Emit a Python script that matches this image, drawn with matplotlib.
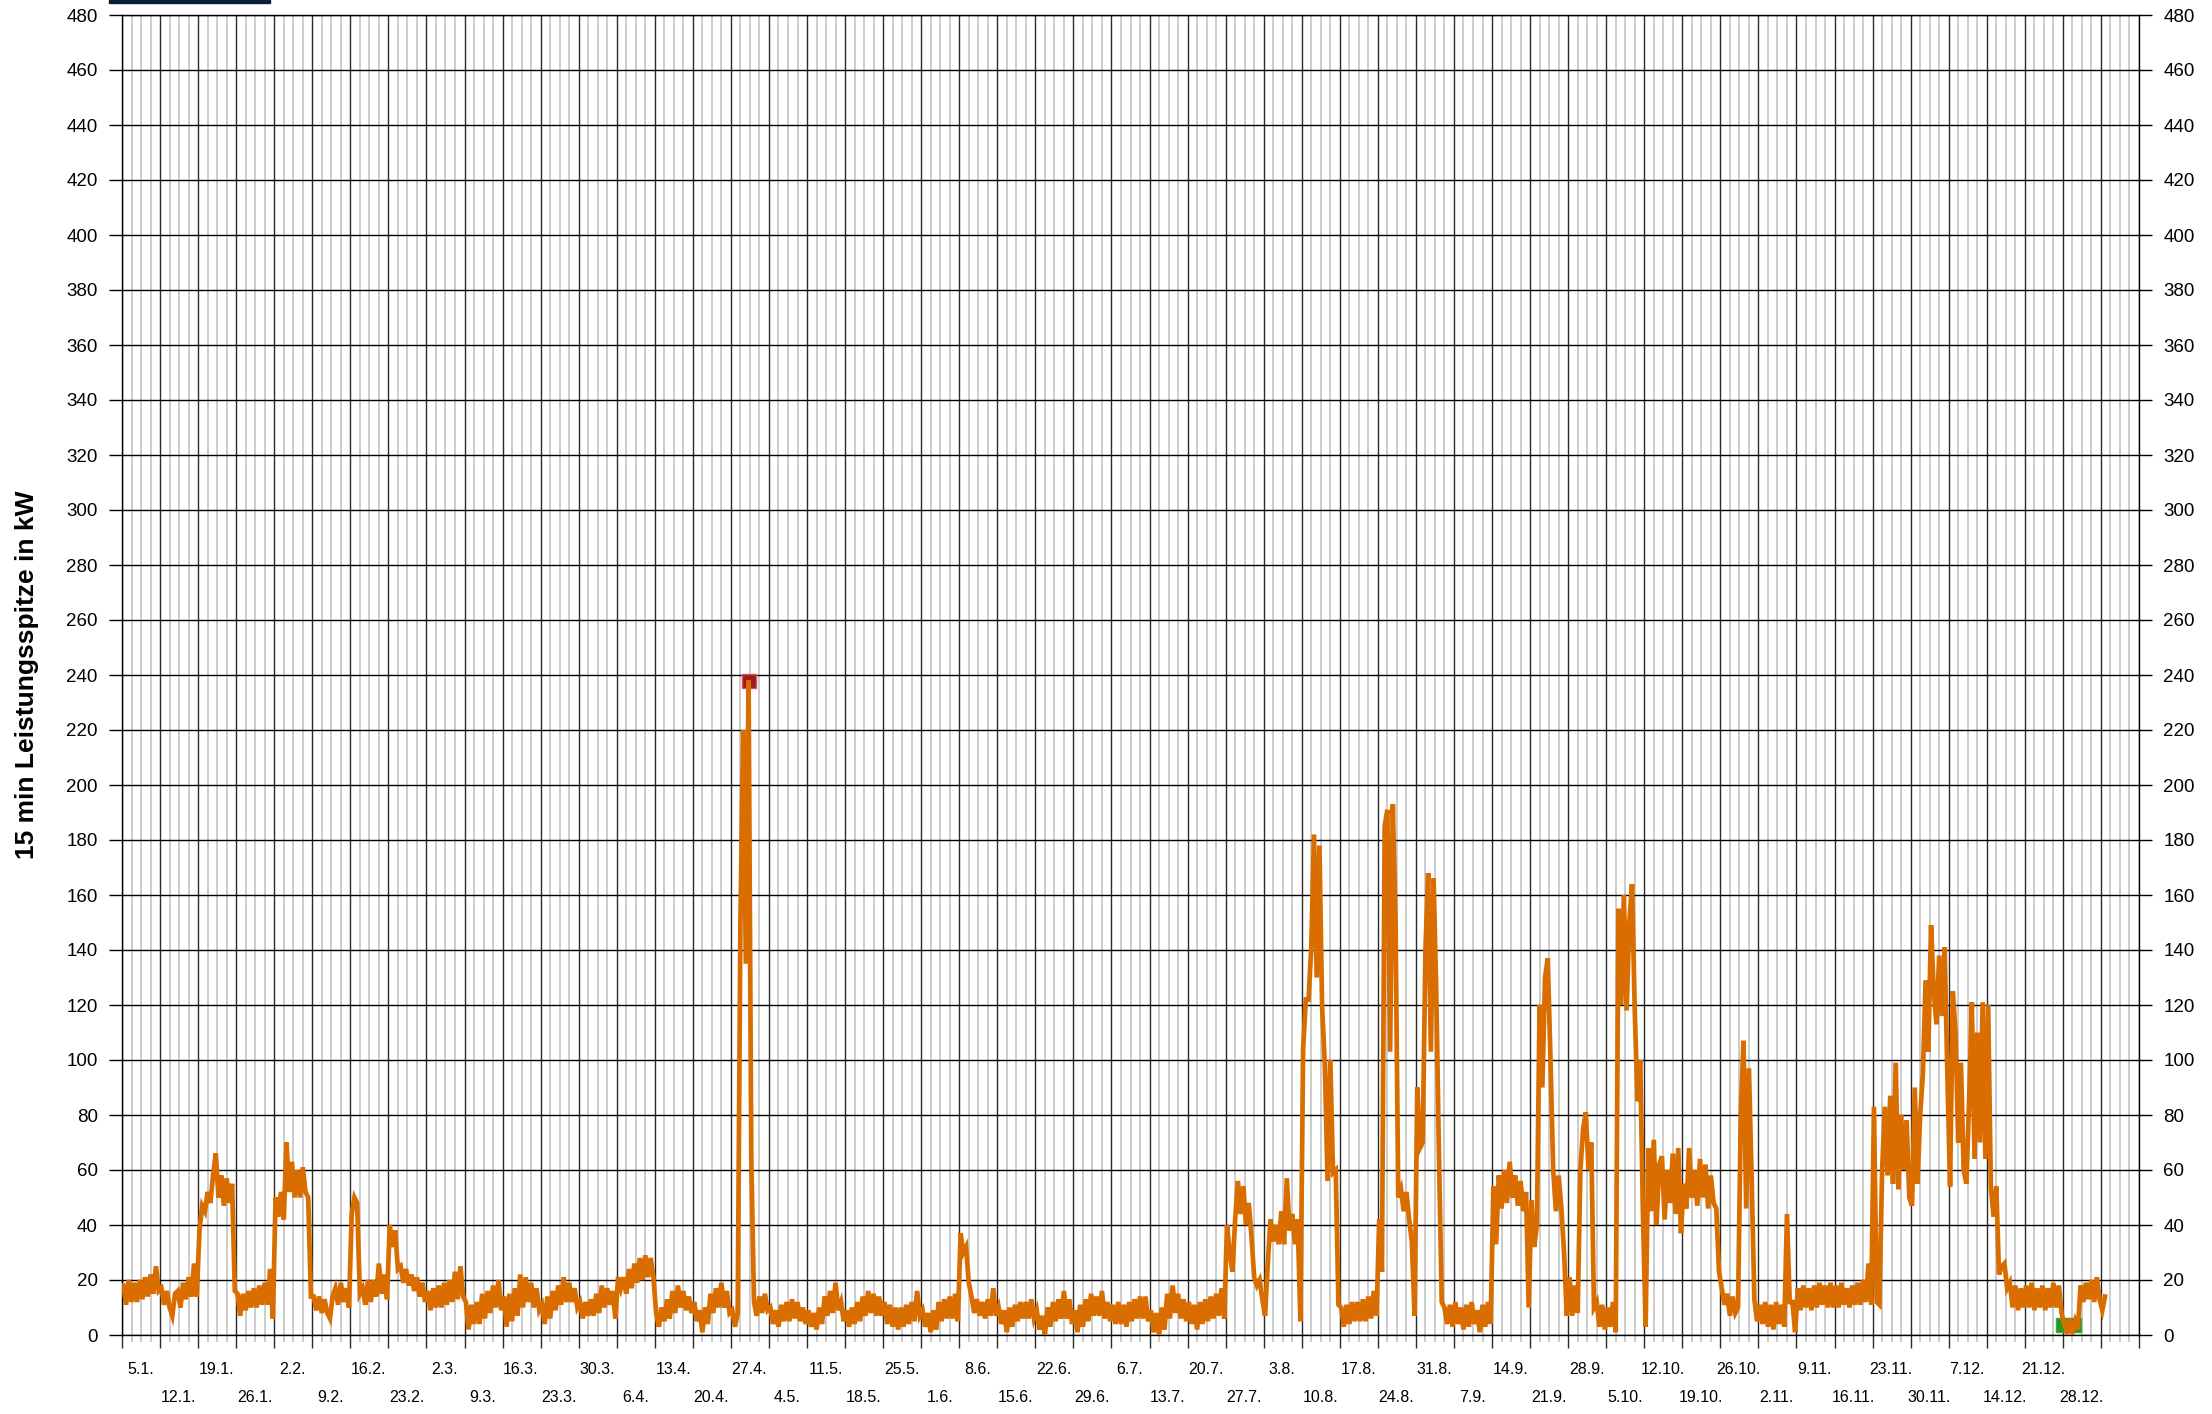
import numpy as np
import matplotlib
matplotlib.use('Agg')
import matplotlib.pyplot as plt
from matplotlib.ticker import MultipleLocator
from matplotlib.patches import Rectangle

plt.rcParams['font.family'] = ['Liberation Sans', 'DejaVu Sans']

# 15 min peak load (kW), two readings per day
kw_jan = [18, 11, 20, 12, 19, 12, 20, 13, 21, 14, 22, 15, 25, 16,
          17, 11, 16, 10, 7, 15, 16, 10, 19, 13, 21, 14, 26, 14,
          38, 47, 45, 52, 48, 58, 66, 50, 58, 47, 57, 48, 55, 16,
          15, 7, 15, 9, 16, 10, 17, 10, 18, 11, 19, 11, 24, 6,
          50, 43, 52, 42, 70, 52]
kw_feb = [63, 50, 60, 50, 61, 52, 50, 14,
          14, 9, 14, 8, 13, 8, 6, 14, 17, 11, 19, 12, 17, 10,
          44, 50, 48, 15, 17, 11, 20, 12, 20, 14, 26, 15, 22, 13,
          40, 32, 38, 24, 25, 19, 24, 18, 22, 16, 21, 14, 19, 12,
          16, 9, 17, 10, 18, 10]
kw_mar = [19, 11, 20, 12, 23, 13, 25, 14,
          12, 2, 11, 4, 12, 4, 15, 6, 16, 8, 18, 10, 20, 9,
          14, 3, 15, 5, 17, 7, 22, 10, 21, 12, 19, 10, 17, 9,
          11, 4, 14, 6, 16, 9, 18, 11, 21, 12, 19, 12, 17, 10,
          12, 6, 12, 7, 13, 7, 15, 8, 18, 10, 17, 11]
kw_apr = [16, 6, 21, 17, 21, 15, 24, 17, 26, 19, 28, 20, 29, 21, 28, 21,
          8, 3, 10, 5, 13, 6, 16, 8, 18, 10, 16, 9, 14, 8,
          12, 5, 9, 1, 10, 4, 15, 8, 17, 10, 19, 10, 16, 8,
          9, 3, 8, 150, 220, 135, 238, 64, 12, 7, 14, 8, 15, 9,
          10, 4]
kw_may = [9, 3, 11, 5, 12, 5, 13, 6, 12, 5, 10, 4,
          9, 3, 8, 2, 10, 4, 14, 7, 16, 8, 19, 9, 12, 5,
          9, 3, 10, 4, 12, 5, 14, 7, 16, 8, 15, 7, 14, 7,
          12, 4, 11, 3, 10, 2, 10, 3, 11, 4, 12, 5, 16, 7,
          9, 3, 8, 1, 9, 2, 12, 5]
kw_jun = [13, 6, 14, 6, 15, 5,
          37, 30, 32, 19, 14, 8, 13, 7, 12, 6, 13, 7, 17, 7,
          10, 4, 9, 1, 10, 3, 11, 5, 12, 6, 12, 6, 13, 6,
          9, 2, 7, 0, 10, 3, 12, 5, 13, 6, 16, 6, 13, 4,
          9, 1, 11, 3, 13, 5, 15, 7, 14, 7, 16, 6]
kw_jul = [12, 5,
          11, 4, 12, 4, 11, 3, 12, 5, 13, 6, 14, 6, 14, 5,
          9, 1, 8, 0, 10, 2, 15, 6, 18, 8, 15, 6, 13, 5,
          12, 4, 11, 2, 12, 4, 13, 5, 14, 6, 15, 7, 17, 6,
          40, 30, 23, 42, 56, 44, 54, 40, 48, 36, 21, 18, 20, 13,
          7, 26, 42, 34]
kw_aug = [40, 33, 45, 33, 57, 38, 44, 33, 42, 5,
          104, 122, 122, 141, 182, 130, 178, 119, 98, 56, 100, 59, 60, 11,
          10, 3, 11, 4, 12, 5, 12, 5, 13, 5, 14, 6, 16, 7,
          42, 23, 185, 191, 103, 193, 150, 50, 53, 45, 52, 42, 34, 7,
          90, 68, 70, 140, 168, 103, 166, 124, 64, 12]
kw_sep = [10, 4, 11, 3,
          12, 4, 10, 2, 11, 3, 12, 4, 9, 1, 11, 3, 12, 4,
          54, 33, 58, 46, 60, 48, 63, 50, 58, 47, 56, 45, 52, 10,
          49, 32, 40, 120, 90, 130, 137, 100, 60, 45, 58, 46, 30, 7,
          21, 7, 18, 8, 60, 75, 81, 60, 70, 10, 12, 3, 11, 2]
kw_oct = [10, 3, 12, 1, 155, 120, 160, 118, 150, 164, 118, 85, 100, 45,
          3, 68, 45, 71, 40, 62, 65, 42, 60, 48, 66, 44, 68, 37,
          55, 46, 68, 50, 60, 47, 64, 50, 62, 46, 58, 48, 46, 23,
          17, 11, 15, 7, 14, 8, 10, 80, 107, 46, 97, 57, 13, 5,
          11, 4, 12, 3, 11, 2]
kw_nov = [12, 4, 11, 3, 44, 12, 12, 1,
          17, 9, 18, 10, 17, 9, 18, 10, 19, 11, 18, 10, 19, 10,
          18, 10, 19, 11, 17, 10, 18, 11, 19, 11, 20, 12, 26, 11,
          83, 12, 11, 60, 83, 58, 87, 55, 99, 53, 80, 60, 78, 50,
          47, 90, 55, 80, 95, 129, 103, 149, 125, 113]
kw_dec = [138, 116, 141, 95,
          54, 125, 110, 70, 99, 60, 55, 85, 121, 64, 110, 70, 121, 64,
          120, 54, 43, 54, 22, 25, 26, 17, 19, 10, 18, 9, 17, 10,
          18, 10, 19, 9, 17, 10, 18, 9, 17, 10, 19, 10, 18, 8,
          4, 1, 6, 1, 5, 2, 18, 12, 19, 13, 20, 12, 21, 13,
          9, 14]

# lowest peaks of the year (green marks)
min_days = [357.0, 359.0]
min_kw = [3.5, 3.5]

week_labels = ['5.1.', '12.1.', '19.1.', '26.1.', '2.2.', '9.2.', '16.2.', '23.2.',
               '2.3.', '9.3.', '16.3.', '23.3.', '30.3.', '6.4.', '13.4.', '20.4.',
               '27.4.', '4.5.', '11.5.', '18.5.', '25.5.', '1.6.', '8.6.', '15.6.',
               '22.6.', '29.6.', '6.7.', '13.7.', '20.7.', '27.7.', '3.8.', '10.8.',
               '17.8.', '24.8.', '31.8.', '7.9.', '14.9.', '21.9.', '28.9.', '5.10.',
               '12.10.', '19.10.', '26.10.', '2.11.', '9.11.', '16.11.', '23.11.',
               '30.11.', '7.12.', '14.12.', '21.12.', '28.12.']

kw = np.array(kw_jan + kw_feb + kw_mar + kw_apr + kw_may + kw_jun +
              kw_jul + kw_aug + kw_sep + kw_oct + kw_nov + kw_dec, dtype=float)
days = np.arange(len(kw)) * 0.5 + 0.25

W, H = 2212, 1414
fig = plt.figure(figsize=(W / 100, H / 100), dpi=100)
ax = fig.add_axes([122 / W, 79 / H, 2017 / W, 1320 / H])

orange = '#da6d00'
imax = np.argmax(kw)
ax.plot(days[imax], kw[imax], 's', ms=10, mfc='#a3161a', mec='#c85a5a', mew=1, zorder=2)
ax.plot(min_days, min_kw, 's', ms=10, mfc='#1f9a1f', mec='#3aa83a', mew=1, zorder=2)
ax.plot(days, kw, color=orange, lw=3.4, solid_joinstyle='miter', zorder=3)

ax.set_xlim(0, 371)
ax.set_ylim(0, 480)
ax.yaxis.set_major_locator(MultipleLocator(20))
ax.xaxis.set_major_locator(MultipleLocator(7))
ax.xaxis.set_minor_locator(MultipleLocator(1.75))

ax.set_axisbelow(True)
ax.grid(which='minor', axis='x', color='#c8c8c8', lw=1.3)
ax.grid(which='major', axis='x', color='#2a2a2a', lw=1.0)
ax.grid(which='major', axis='y', color='black', lw=1.0)

ax.tick_params(axis='y', which='major', length=9.5, width=1.0, color='black',
               left=True, right=True, labelleft=True, labelright=True,
               labelsize=13.5, pad=8)
ax.tick_params(axis='x', which='major', length=9.5, width=1.0, color='#2a2a2a',
               labelbottom=False)
ax.tick_params(axis='x', which='minor', length=5, width=1.3, color='#c8c8c8')
for s in ax.spines.values():
    s.set_linewidth(1.0)
    s.set_color('black')

for i, lab in enumerate(week_labels):
    yoff = -35 / 1320 if i % 2 == 0 else -62 / 1320
    ax.text(3.4 + 7 * i, yoff, lab, transform=ax.get_xaxis_transform(),
            ha='center', va='center', fontsize=11.5)

fig.text(27 / W, 1 - 675 / H, '15 min Leistungsspitze in kW', rotation=90,
         ha='center', va='center', fontsize=19, fontweight='bold')

fig.add_artist(Rectangle((109 / W, 1 - 3 / H), 161 / W, 3 / H,
                         transform=fig.transFigure, color='#0b1f3a'))

fig.savefig('out.png', dpi=100)
